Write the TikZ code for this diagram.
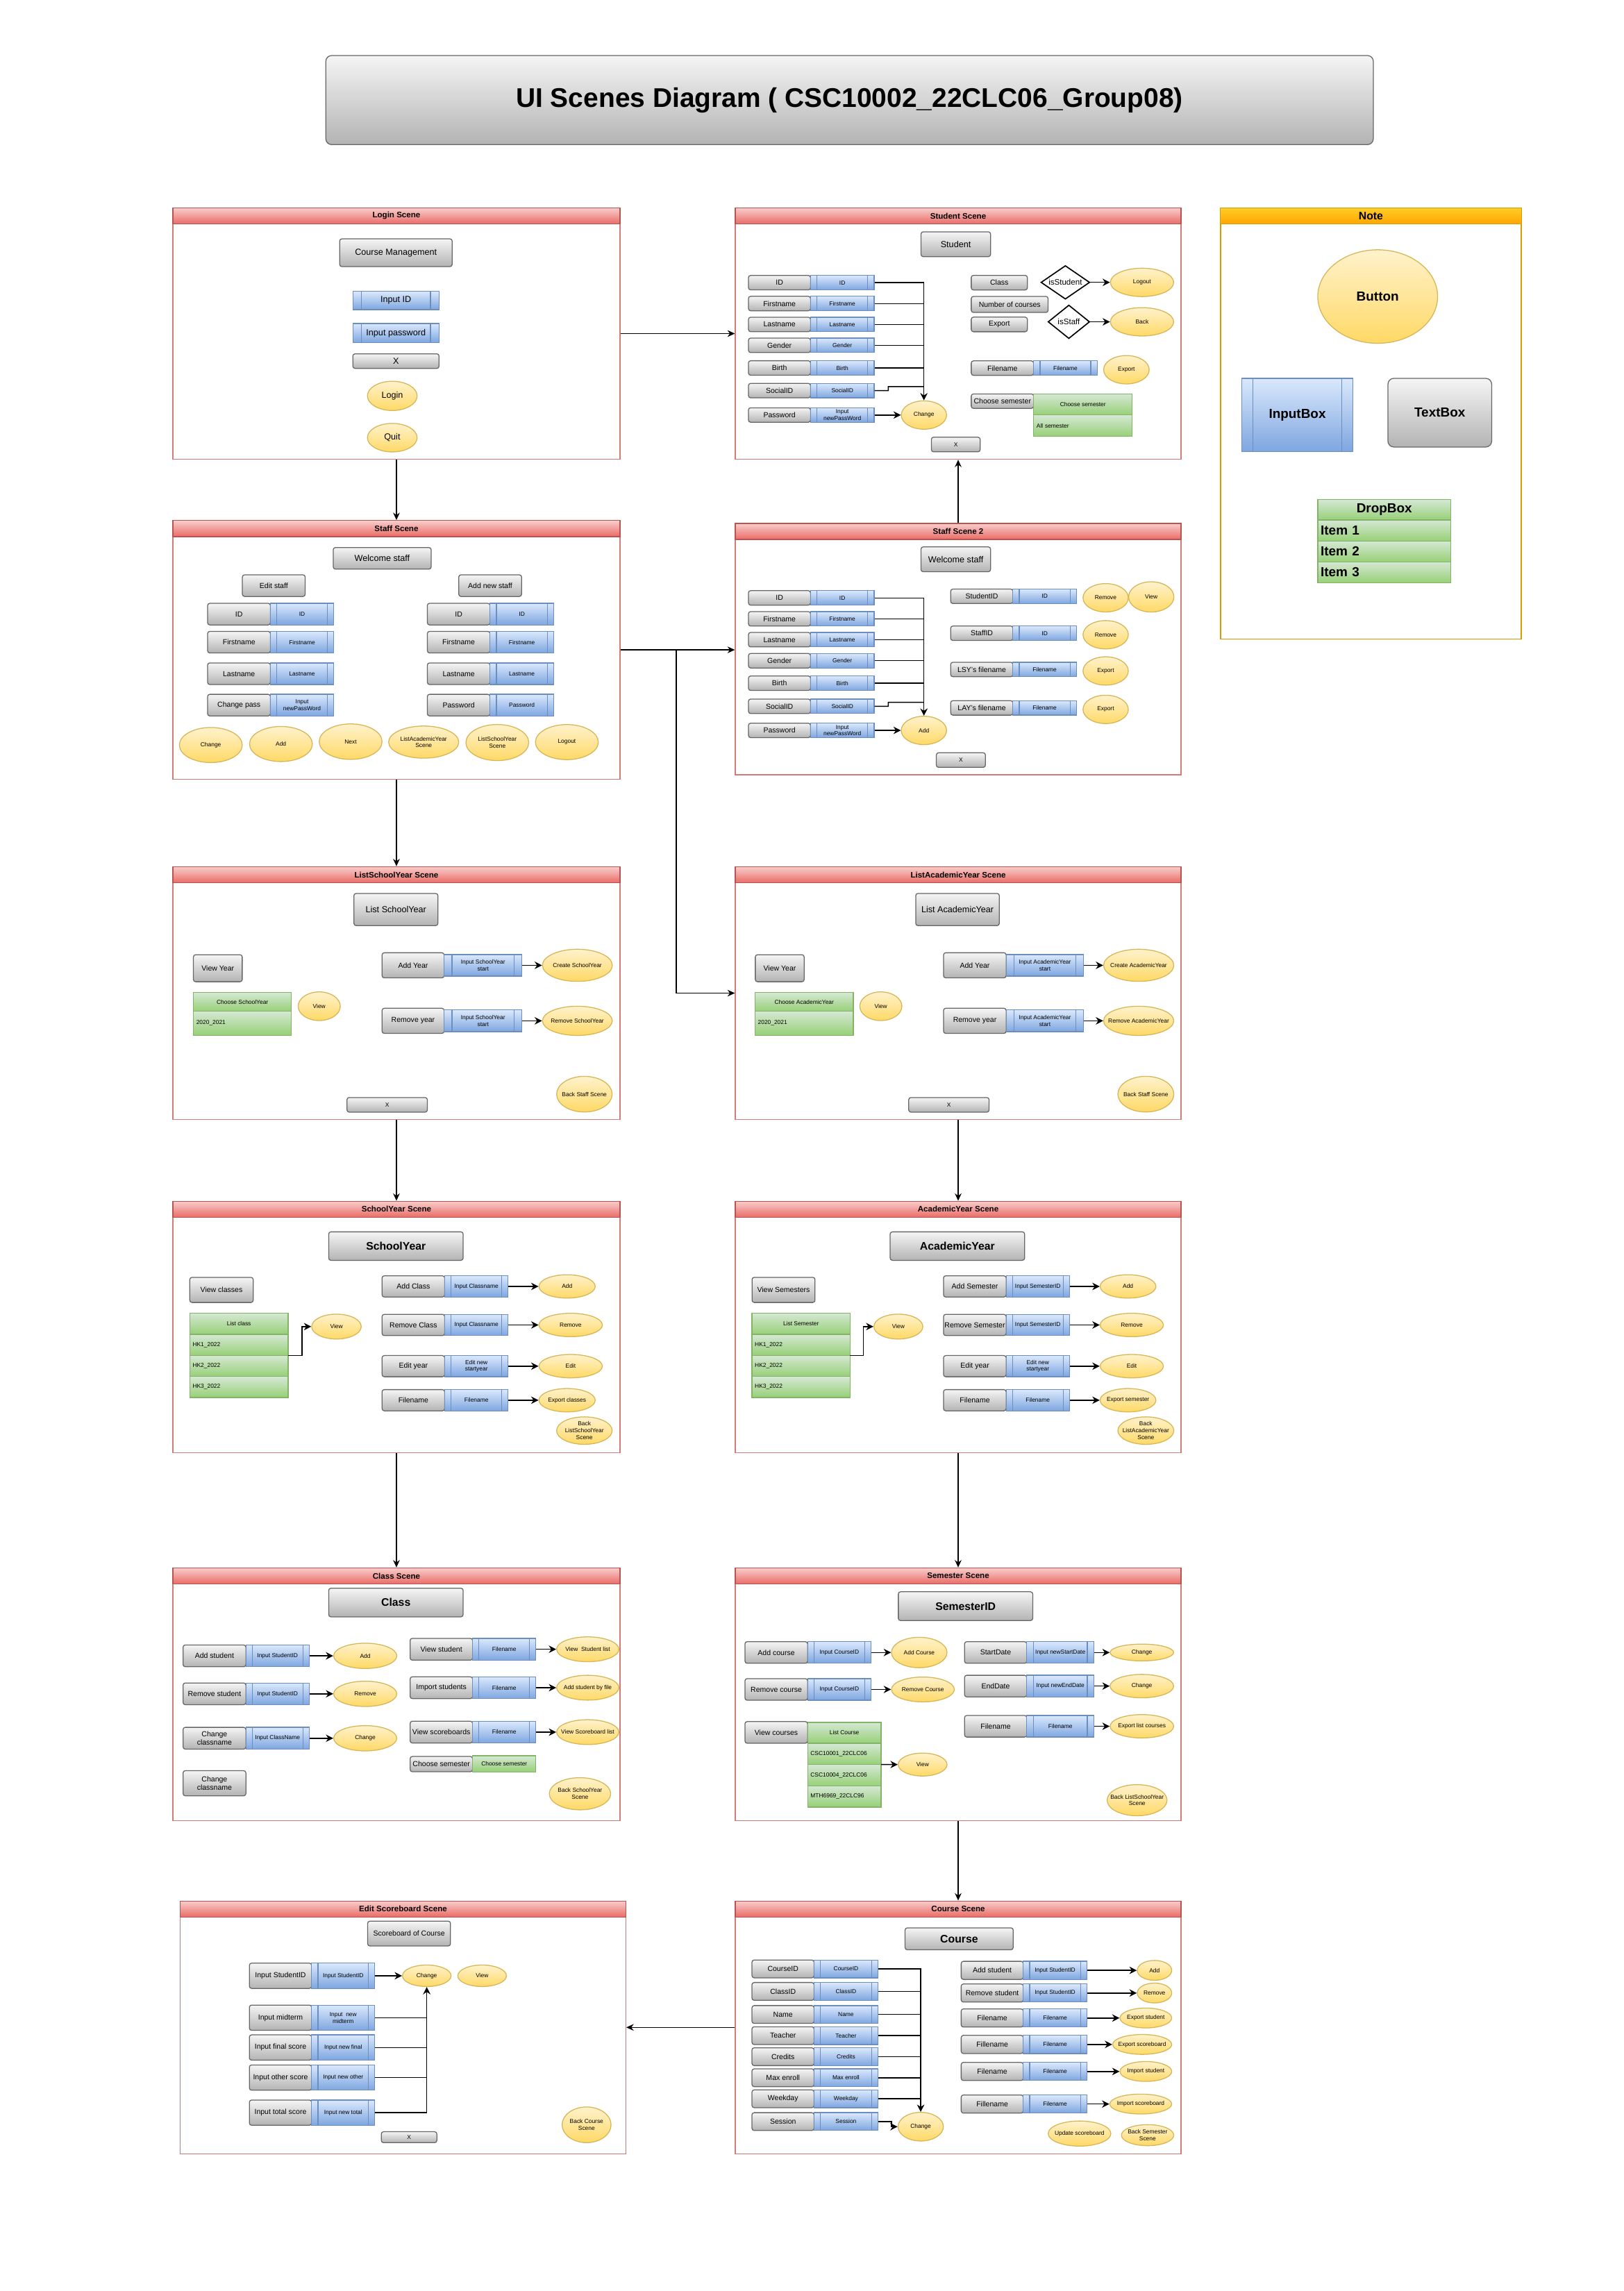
\documentclass[tikz,border=0pt]{standalone}
\usepackage{fontspec}
\setmainfont{Liberation Sans}
\usetikzlibrary{arrows.meta, shapes.geometric, positioning, calc}

\definecolor{boxtop}{HTML}{F5F5F5}
\definecolor{boxbot}{HTML}{B3B3B3}
\definecolor{boxline}{HTML}{666666}
\definecolor{intop}{HTML}{DAE8FC}
\definecolor{inbot}{HTML}{7EA6E0}
\definecolor{inpline}{HTML}{6C8EBF}
\definecolor{btntop}{HTML}{FFF2CC}
\definecolor{btnbot}{HTML}{FFD966}
\definecolor{btnline}{HTML}{D6B656}
\definecolor{droptop}{HTML}{D5E8D4}
\definecolor{dropbot}{HTML}{97D077}
\definecolor{dropline}{HTML}{82B366}
\definecolor{headtop}{HTML}{F8CECC}
\definecolor{headbot}{HTML}{EA6B66}
\definecolor{headline}{HTML}{B85450}
\definecolor{frameline}{HTML}{D47A76}
\definecolor{notetop}{HTML}{FFCD28}
\definecolor{notebot}{HTML}{FFA500}
\definecolor{noteline}{HTML}{D79B00}

\newcommand{\fsTitle}{\fontsize{18.5}{22}\selectfont\bfseries}
\newcommand{\fsHead}{\fontsize{5.5}{6.5}\selectfont\bfseries}
\newcommand{\fsMain}{\fontsize{7.5}{9}\selectfont\bfseries}
\newcommand{\fsBig}{\fontsize{6}{7}\selectfont}
\newcommand{\fsLbl}{\fontsize{5}{5.8}\selectfont}
\newcommand{\fsIn}{\fontsize{4}{4.6}\selectfont}
\newcommand{\fsGate}{\fontsize{5.5}{6.5}\selectfont}
\newcommand{\fsNote}{\fontsize{9}{10.5}\selectfont\bfseries}
\newcommand{\fsNoteHead}{\fontsize{7.5}{9}\selectfont\bfseries}

\begin{document}
\begin{tikzpicture}[x=1pt, y=-1pt, scale=0.9896, transform shape,
    scene/.style={anchor=north west, draw=frameline, fill=white, line width=0.7, inner sep=0},
    scnhead/.style={anchor=north, draw=headline, top color=headtop, bottom color=headbot, line width=0.6, minimum height=11, inner sep=0, font=\fsHead},
    lbl/.style={rectangle, rounded corners=1.5, draw=boxline, top color=boxtop, bottom color=boxbot, line width=0.6, inner sep=0.5, align=center, font=\fsLbl},
    inp/.style={rectangle, draw=inpline, top color=intop, bottom color=inbot, line width=0.6, inner sep=0.5, align=center, font=\fsIn,
      path picture={\draw[inpline, line width=0.6]
        ($(path picture bounding box.south west)!0.1!(path picture bounding box.south east)$) --
        ($(path picture bounding box.north west)!0.1!(path picture bounding box.north east)$)
        ($(path picture bounding box.south west)!0.9!(path picture bounding box.south east)$) --
        ($(path picture bounding box.north west)!0.9!(path picture bounding box.north east)$);}},
    btn/.style={ellipse, draw=btnline, top color=btntop, bottom color=btnbot, line width=0.6, inner sep=0, label={[btntxt]center:{#1}}},
    btntxt/.style={font=\fsIn, align=center, inner sep=0},
    gate/.style={diamond, draw=black, fill=white, line width=0.8, inner sep=0, label={[font=\fsGate, inner sep=0]center:#1}},
    drophead/.style={rectangle, draw=dropline, top color=droptop, bottom color=dropbot, line width=0.6, inner sep=0.5, outer sep=0, align=center, font=\fsIn},
    dropitem/.style={drophead, align=left, inner xsep=2},
    wire/.style={draw=black, line width=0.7},
    flow/.style={wire, -{Stealth[length=5pt, width=5pt]}},
    sceneLink/.style={wire, -{Stealth[length=5pt, width=4.5pt]}}
  ]
  \useasboundingbox (0,0) rectangle (1111.56,1568.3);
  \fill[white] (0,0) rectangle (1111.56,1568.3);

  % 标题
  \node[lbl, rounded corners=4, font=\fsTitle, minimum width=717, minimum height=61] (title) at (581.5,68.5) {UI Scenes Diagram ( CSC10002\_22CLC06\_Group08)};

  % 登录场景
  \node[scene, minimum width=306, minimum height=172] (login) at (118,142) {};
  \node[scnhead, minimum width=306] (loginHead) at (login.north) {Login Scene};
  \begin{scope}[shift={(118,142)}]
    \node[lbl, font=\fsBig, minimum width=77, minimum height=19] (lgTitle) at (153,31) {Course Management};
    \node[inp, font=\fsBig, minimum width=59, minimum height=12.5] (lgId) at (153,63.7) {Input ID};
    \node[inp, font=\fsBig, minimum width=59, minimum height=13] (lgPass) at (153,86) {Input password};
    \node[lbl, font=\fsBig, minimum width=59, minimum height=10] (lgX) at (153,105.2) {X};
    \node[btn={\fsBig Login}, minimum width=34, minimum height=20] (lgLogin) at (150.5,129) {};
    \node[btn={\fsBig Quit}, minimum width=34, minimum height=19.5] (lgQuit) at (150.5,157.6) {};
  \end{scope}

  % 学生场景
  \node[scene, minimum width=305, minimum height=172] (student) at (503,142) {};
  \node[scnhead, minimum width=305] (studentHead) at (student.north) {Student Scene};
  \begin{scope}[shift={(503,142)}]
    \node[lbl, font=\fsBig, minimum width=47.6, minimum height=17] (stuTitle) at (151.2,25.2) {Student};
    \foreach \y/\lab/\txt [count=\i] in {51.5/ID/ID, 65.8/Firstname/Firstname, 80.1/Lastname/Lastname, 94.4/Gender/Gender, 109.9/Birth/Birth, 125.4/SocialID/SocialID, 142.1/Password/{Input\\newPassWord}} {
      \node[lbl, minimum width=42.5, minimum height=9.9] (stuL\i) at (30.55,\y) {\lab};
      \node[inp, minimum width=43.5, minimum height=9.9] (stuI\i) at (73.55,\y) {\txt};
    }
    \node[btn=Change, minimum width=31, minimum height=19.4] (stuChange) at (129.4,142.1) {};
    \draw[flow] (stuI1.east) -| (stuChange.north);
    \foreach \i in {2,...,5} \draw[wire] (stuI\i.east) -- (stuI\i.east -| stuChange.north);
    \draw[wire] (stuI6.east) -- ++(9.4,0) -- ++(0,-2.7) coordinate (stuStep) -- (stuStep -| stuChange.north);
    \draw[flow] (stuI7.east) -- (stuChange.west);
    \node[lbl, font=\fsIn, minimum width=33.4, minimum height=10] (stuX) at (151.2,162.3) {X};
    \node[lbl, minimum width=38.4, minimum height=10] (stuClass) at (181,51.5) {Class};
    \node[lbl, minimum width=52.6, minimum height=11] (stuCount) at (188.1,66.4) {Number of courses};
    \node[lbl, minimum width=38.4, minimum height=10] (stuExport) at (181,80.1) {Export};
    \node[gate={isStudent}, minimum width=33.4, minimum height=23] (stuIsStu) at (226.2,51.3) {};
    \node[gate={isStaff}, minimum width=28.5, minimum height=23] (stuIsStaff) at (228.6,78.3) {};
    \node[btn=Logout, minimum width=43.3, minimum height=19.4] (stuLogout) at (278.7,51.3) {};
    \node[btn=Back, minimum width=43.3, minimum height=19.4] (stuBack) at (278.7,78.3) {};
    \draw[flow] (stuIsStu.east) -- (stuLogout.west);
    \draw[flow] (stuIsStaff.east) -- (stuBack.west);
    \node[lbl, minimum width=42.7, minimum height=9.9] (stuFileL) at (183.15,110) {Filename};
    \node[inp, minimum width=43.5, minimum height=9.9] (stuFileI) at (226.25,110) {Filename};
    \node[btn=Export, minimum width=31.2, minimum height=19.4] (stuFileBtn) at (268,111.1) {};
    \node[lbl, minimum width=42.7, minimum height=9.9] (stuSemL) at (183.15,132.6) {Choose semester};
    \node[drophead, anchor=north west, minimum width=67.5, minimum height=14.4] (stuSem) at (204.5,127.7) {Choose semester};
    \node[dropitem, text width=63.5, minimum height=14.5, below=0pt of stuSem] (stuSemAll) {All semester};
  \end{scope}

  % 员工场景
  \node[scene, minimum width=306, minimum height=177] (staff) at (118,356) {};
  \node[scnhead, minimum width=306] (staffHead) at (staff.north) {Staff Scene};
  \begin{scope}[shift={(118,356)}]
    \node[lbl, font=\fsBig, minimum width=67, minimum height=14.8] (stfTitle) at (143.6,26.2) {Welcome staff};
    \node[lbl, minimum width=43, minimum height=14.8] (stfEdit) at (69.4,44.9) {Edit staff};
    \node[lbl, minimum width=43, minimum height=14.8] (stfNew) at (217.5,44.9) {Add new staff};
    \foreach \y/\labA/\inA/\labB/\inB [count=\i] in {64.4/ID/ID/ID/ID, 83.6/Firstname/Firstname/Firstname/Firstname, 105.2/Lastname/Lastname/Lastname/Lastname, 126.7/Change pass/{Input\\newPassWord}/Password/Password} {
      \node[lbl, minimum width=43, minimum height=14.8] (stfL\i) at (45.6,\y) {\labA};
      \node[inp, minimum width=43.3, minimum height=14.8] (stfI\i) at (88.75,\y) {\inA};
      \node[lbl, minimum width=42.9, minimum height=14.8] (stfR\i) at (195.95,\y) {\labB};
      \node[inp, minimum width=43.6, minimum height=14.8] (stfS\i) at (239.2,\y) {\inB};
    }
    \node[btn=Change, minimum width=43, minimum height=24] (stfChange) at (26.3,154) {};
    \node[btn=Add, minimum width=43, minimum height=24] (stfAdd) at (74.3,153.3) {};
    \node[btn=Next, minimum width=43, minimum height=24.3] (stfNext) at (122,151.7) {};
    \node[btn={ListAcademicYear\\Scene}, minimum width=48, minimum height=22] (stfToLAY) at (172,152) {};
    \node[btn={ListSchoolYear\\Scene}, minimum width=43, minimum height=24.7] (stfToLSY) at (222.4,152.3) {};
    \node[btn=Logout, minimum width=43, minimum height=24] (stfLogout) at (270,152) {};
  \end{scope}

  % 员工场景 2
  \node[scene, minimum width=305, minimum height=172] (staffTwo) at (503,358) {};
  \node[scnhead, minimum width=305] (staffTwoHead) at (staffTwo.north) {Staff Scene 2};
  \begin{scope}[shift={(503,358)}]
    \node[lbl, font=\fsBig, minimum width=47.6, minimum height=17] (sfbTitle) at (151.2,24.9) {Welcome staff};
    \foreach \y/\lab/\txt [count=\i] in {51.3/ID/ID, 65.6/Firstname/Firstname, 79.9/Lastname/Lastname, 94.3/Gender/Gender, 109.7/Birth/Birth, 125.5/SocialID/SocialID, 142/Password/{Input\\newPassWord}} {
      \node[lbl, minimum width=42.5, minimum height=9.9] (sfbL\i) at (30.55,\y) {\lab};
      \node[inp, minimum width=43.5, minimum height=9.9] (sfbI\i) at (73.55,\y) {\txt};
    }
    \node[btn=Add, minimum width=31, minimum height=19.4] (sfbAdd) at (129.4,142) {};
    \draw[flow] (sfbI1.east) -| (sfbAdd.north);
    \foreach \i in {2,...,5} \draw[wire] (sfbI\i.east) -- (sfbI\i.east -| sfbAdd.north);
    \draw[wire] (sfbI6.east) -- ++(9.4,0) -- ++(0,-2.7) coordinate (sfbStep) -- (sfbStep -| sfbAdd.north);
    \draw[flow] (sfbI7.east) -- (sfbAdd.west);
    \node[lbl, font=\fsIn, minimum width=33.6, minimum height=10] (sfbX) at (154.7,162.3) {X};
    \foreach \y/\lab/\txt/\act [count=\i] in {50.2/StudentID/ID/Remove, 75.5/StaffID/ID/Remove, 100.3/LSY's filename/Filename/Export, 126.6/LAY's filename/Filename/Export} {
      \node[lbl, minimum width=42.6, minimum height=9.9] (sfbR\i) at (169,\y) {\lab};
      \node[inp, minimum width=43.5, minimum height=9.9] (sfbS\i) at (212.05,\y) {\txt};
      \node[btn=\act, minimum width=31, minimum height=19.4] (sfbB\i) at (253.8,\y+1) {};
    }
    \node[btn=View, minimum width=31, minimum height=20.7] (sfbView) at (285,50.6) {};
  \end{scope}

  % 学年列表场景
  \node[scene, minimum width=306, minimum height=173] (listSY) at (118,593) {};
  \node[scnhead, minimum width=306] (listSYHead) at (listSY.north) {ListSchoolYear Scene};
  \begin{scope}[shift={(118,593)}]
    \node[lbl, font=\fsBig, minimum width=57.5, minimum height=22] (lsyTitle) at (153,29.6) {List SchoolYear};
    \node[lbl, minimum width=33.4, minimum height=18.5] (lsyView) at (31.1,69.8) {View Year};
    \node[drophead, anchor=north west, minimum width=67.1, minimum height=12.8] (lsyList) at (14.4,86.4) {Choose SchoolYear};
    \node[dropitem, text width=63.1, minimum height=16.5, below=0pt of lsyList] (lsyItem) {2020\_2021};
    \node[btn=View, minimum width=28.8, minimum height=19.6] (lsyViewBtn) at (100.5,95.8) {};
    \node[lbl, minimum width=42.5, minimum height=17.2] (lsyAdd) at (164.75,67.8) {Add Year};
    \node[inp, minimum width=53.3, minimum height=14.8] (lsyAddIn) at (212.65,67.8) {Input SchoolYear\\start};
    \node[btn=Create SchoolYear, minimum width=47.8, minimum height=22] (lsyCreate) at (277.2,67.8) {};
    \node[lbl, minimum width=42.5, minimum height=17.2] (lsyRem) at (164.75,105.8) {Remove year};
    \node[inp, minimum width=53.3, minimum height=14.8] (lsyRemIn) at (212.65,105.8) {Input SchoolYear\\start};
    \node[btn=Remove SchoolYear, minimum width=47.8, minimum height=20] (lsyRemove) at (277.2,105.8) {};
    \draw[flow] (lsyAddIn.east) -- (lsyCreate.west);
    \draw[flow] (lsyRemIn.east) -- (lsyRemove.west);
    \node[lbl, font=\fsIn, minimum width=55, minimum height=10] (lsyX) at (147,163.3) {X};
    \node[btn=Back Staff Scene, minimum width=38, minimum height=24.4] (lsyBack) at (282,156) {};
  \end{scope}

  % 学年度列表场景
  \node[scene, minimum width=305, minimum height=173] (listAY) at (503,593) {};
  \node[scnhead, minimum width=305] (listAYHead) at (listAY.north) {ListAcademicYear Scene};
  \begin{scope}[shift={(503,593)}]
    \node[lbl, font=\fsBig, minimum width=57.2, minimum height=22] (layTitle) at (152.4,29.6) {List AcademicYear};
    \node[lbl, minimum width=33.4, minimum height=18.5] (layView) at (30.7,69.8) {View Year};
    \node[drophead, anchor=north west, minimum width=67.3, minimum height=12.8] (layList) at (13.8,86.4) {Choose AcademicYear};
    \node[dropitem, text width=63.3, minimum height=16.5, below=0pt of layList] (layItem) {2020\_2021};
    \node[btn=View, minimum width=28.8, minimum height=19.6] (layViewBtn) at (99.9,95.8) {};
    \node[lbl, minimum width=42.9, minimum height=17.2] (layAdd) at (164.25,67.8) {Add Year};
    \node[inp, minimum width=53, minimum height=14.8] (layAddIn) at (212.2,67.8) {Input AcademicYear\\start};
    \node[btn=Create AcademicYear, minimum width=48, minimum height=22] (layCreate) at (276.4,67.8) {};
    \node[lbl, minimum width=42.9, minimum height=17.2] (layRem) at (164.25,105.8) {Remove year};
    \node[inp, minimum width=53, minimum height=14.8] (layRemIn) at (212.2,105.8) {Input AcademicYear\\start};
    \node[btn=Remove AcademicYear, minimum width=48, minimum height=20] (layRemove) at (276.4,105.8) {};
    \draw[flow] (layAddIn.east) -- (layCreate.west);
    \draw[flow] (layRemIn.east) -- (layRemove.west);
    \node[lbl, font=\fsIn, minimum width=55, minimum height=10] (layX) at (146.5,163.3) {X};
    \node[btn=Back Staff Scene, minimum width=38.3, minimum height=24.4] (layBack) at (281.3,156) {};
  \end{scope}

  % 学年场景
  \node[scene, minimum width=306, minimum height=172] (schoolY) at (118,822) {};
  \node[scnhead, minimum width=306] (schoolYHead) at (schoolY.north) {SchoolYear Scene};
  \begin{scope}[shift={(118,822)}]
    \node[lbl, font=\fsMain, minimum width=92, minimum height=19.5] (syTitle) at (153,31) {SchoolYear};
    \node[lbl, minimum width=43.4, minimum height=17.2] (syView) at (33.6,61) {View classes};
    \node[drophead, anchor=north west, minimum width=67.3, minimum height=14.6] (syList) at (11.9,76.8) {List class};
    \node[dropitem, text width=63.3, minimum height=14.4, below=0pt of syList] (syItem1) {HK1\_2022};
    \node[dropitem, text width=63.3, minimum height=14.4, below=0pt of syItem1] (syItem2) {HK2\_2022};
    \node[dropitem, text width=63.3, minimum height=14.4, below=0pt of syItem2] (syItem3) {HK3\_2022};
    \node[btn=View, minimum width=33.9, minimum height=17] (syViewBtn) at (112.3,86.1) {};
    \draw[flow] (syItem1.south east) -- ++(9.6,0) |- (syViewBtn.west);
    \foreach \y/\lab/\txt/\act/\w [count=\i] in {58.6/Add Class/Input Classname/Add/38.5, 85/Remove Class/Input Classname/Remove/43.4, 113.2/Edit year/{Edit new\\startyear}/Edit/43.4, 136.5/Filename/Filename/Export classes/38.5} {
      \node[lbl, minimum width=42.9, minimum height=14.5] (syL\i) at (164.95,\y) {\lab};
      \node[inp, minimum width=43.4, minimum height=14.5] (syI\i) at (208.1,\y) {\txt};
      \node[btn=\act, minimum width=\w, minimum height=16] (syB\i) at (250.9+\w/2,\y) {};
      \draw[flow] (syI\i.east) -- (syB\i.west);
    }
    \node[btn={Back\\ListSchoolYear\\Scene}, minimum width=38, minimum height=18.8] (syBack) at (282,157.3) {};
  \end{scope}

  % 学年度场景
  \node[scene, minimum width=305, minimum height=172] (academicY) at (503,822) {};
  \node[scnhead, minimum width=305] (academicYHead) at (academicY.north) {AcademicYear Scene};
  \begin{scope}[shift={(503,822)}]
    \node[lbl, font=\fsMain, minimum width=92, minimum height=19.5] (ayTitle) at (152.3,31) {AcademicYear};
    \node[lbl, minimum width=43.1, minimum height=17.2] (ayView) at (33.3,61) {View Semesters};
    \node[drophead, anchor=north west, minimum width=67.2, minimum height=14.6] (ayList) at (11.7,76.8) {List Semester};
    \node[dropitem, text width=63.2, minimum height=14.4, below=0pt of ayList] (ayItem1) {HK1\_2022};
    \node[dropitem, text width=63.2, minimum height=14.4, below=0pt of ayItem1] (ayItem2) {HK2\_2022};
    \node[dropitem, text width=63.2, minimum height=14.4, below=0pt of ayItem2] (ayItem3) {HK3\_2022};
    \node[btn=View, minimum width=33.5, minimum height=17] (ayViewBtn) at (111.9,86.1) {};
    \draw[flow] (ayItem1.south east) -- ++(9.1,0) |- (ayViewBtn.west);
    \foreach \y/\lab/\txt/\act/\w [count=\i] in {58.6/Add Semester/Input SemesterID/Add/38.2, 85/Remove Semester/Input SemesterID/Remove/43.3, 113.2/Edit year/{Edit new\\startyear}/Edit/43.3, 136.5/Filename/Filename/Export semester/38.2} {
      \node[lbl, minimum width=42.9, minimum height=14.5] (ayL\i) at (164.25,\y) {\lab};
      \node[inp, minimum width=43.3, minimum height=14.5] (ayI\i) at (207.35,\y) {\txt};
      \node[btn=\act, minimum width=\w, minimum height=16] (ayB\i) at (250+\w/2,\y) {};
      \draw[flow] (ayI\i.east) -- (ayB\i.west);
    }
    \node[btn={Back\\ListAcademicYear\\Scene}, minimum width=38.3, minimum height=18.8] (ayBack) at (281.3,157.3) {};
  \end{scope}

  % 班级场景
  \node[scene, minimum width=306, minimum height=173] (clsScene) at (118,1073) {};
  \node[scnhead, minimum width=306] (clsSceneHead) at (clsScene.north) {Class Scene};
  \begin{scope}[shift={(118,1073)}]
    \node[lbl, font=\fsMain, minimum width=92, minimum height=19.6] (clsTitle) at (153,24) {Class};
    \foreach \y/\lab/\txt/\act [count=\i] in {60.5/Add student/Input StudentID/Add, 86.5/Remove student/Input StudentID/Remove, 116.9/{Change\\classname}/Input ClassName/Change} {
      \node[lbl, minimum width=43, minimum height=14.9] (clsL\i) at (28.8,\y) {\lab};
      \node[inp, minimum width=43.3, minimum height=14.9] (clsI\i) at (71.95,\y) {\txt};
      \node[btn=\act, minimum width=43.2, minimum height=17.3] (clsB\i) at (132,\y) {};
      \draw[flow] (clsI\i.east) -- (clsB\i.west);
    }
    \node[lbl, minimum width=43, minimum height=17.2] (clsRename) at (28.8,147.7) {Change\\classname};
    \foreach \y/\lab/\act [count=\i] in {56/View student/View\ \ Student list, 82.3/Import students/Add student by file, 112.7/View scoreboards/View Scoreboard list} {
      \node[lbl, minimum width=42.8, minimum height=14.9] (clsRL\i) at (184.1,\y) {\lab};
      \node[inp, minimum width=43.3, minimum height=14.9] (clsRI\i) at (227.15,\y) {Filename};
      \node[btn=\act, minimum width=42.6, minimum height=17] (clsRB\i) at (284.3,\y) {};
      \draw[flow] (clsRI\i.east) -- (clsRB\i.west);
    }
    \node[lbl, minimum width=42.8, minimum height=10.4] (clsSemL) at (184.1,134.6) {Choose semester};
    \node[drophead, minimum width=43.3, minimum height=11] (clsSem) at (227.15,134.4) {Choose semester};
    \node[btn={Back SchoolYear\\Scene}, minimum width=42, minimum height=22] (clsBack) at (279,154.9) {};
  \end{scope}

  % 学期场景
  \node[scene, minimum width=305, minimum height=173] (semester) at (503,1073) {};
  \node[scnhead, minimum width=305] (semesterHead) at (semester.north) {Semester Scene};
  \begin{scope}[shift={(503,1073)}]
    \node[lbl, font=\fsMain, minimum width=92, minimum height=19.7] (semTitle) at (157.9,26.5) {SemesterID};
    \node[lbl, minimum width=42.9, minimum height=14.8] (semAdd) at (28.35,58.2) {Add course};
    \node[inp, minimum width=43.4, minimum height=14.8] (semAddIn) at (71.5,58.2) {Input CourseID};
    \node[btn=Add Course, minimum width=38, minimum height=20.8] (semAddBtn) at (126.2,58.2) {};
    \node[lbl, minimum width=42.9, minimum height=14.8] (semRem) at (28.35,83.5) {Remove course};
    \node[inp, minimum width=43.4, minimum height=14.8] (semRemIn) at (71.5,83.5) {Input CourseID};
    \node[btn=Remove Course, minimum width=43, minimum height=17] (semRemBtn) at (128.7,83.5) {};
    \draw[flow] (semAddIn.east) -- (semAddBtn.west);
    \draw[flow] (semRemIn.east) -- (semRemBtn.west);
    \node[lbl, minimum width=42.9, minimum height=14.8] (semView) at (28.35,112.9) {View courses};
    \node[drophead, anchor=north west, minimum width=50.3, minimum height=14.3] (semList) at (49.8,106) {List Course};
    \node[dropitem, text width=46.3, minimum height=14.6, below=0pt of semList] (semItem1) {CSC10001\_22CLC06};
    \node[dropitem, text width=46.3, minimum height=14.6, below=0pt of semItem1] (semItem2) {CSC10004\_22CLC06};
    \node[dropitem, text width=46.3, minimum height=14.6, below=0pt of semItem2] (semItem3) {MTH6969\_22CLC96};
    \node[btn=View, minimum width=33.4, minimum height=15.7] (semViewBtn) at (128.5,134.9) {};
    \draw[flow] (semItem1.south east) -- (semViewBtn.west);
    \foreach \y/\lab/\txt/\act/\h [count=\i] in {58.2/StartDate/Input newStartDate/Change/11.5, 81.2/EndDate/Input newEndDate/Change/16, 108.7/Filename/Filename/Export list courses/16} {
      \node[lbl, minimum width=42.6, minimum height=14.8] (semL\i) at (178.5,\y) {\lab};
      \node[inp, minimum width=46, minimum height=14.8] (semI\i) at (222.8,\y) {\txt};
      \node[btn=\act, minimum width=43.5, minimum height=\h] (semB\i) at (278.6,\y) {};
      \draw[flow] (semI\i.east) -- (semB\i.west);
    }
    \node[btn={Back ListSchoolYear\\Scene}, minimum width=41, minimum height=21.3] (semBack) at (275.3,159.3) {};
  \end{scope}

  % 成绩单编辑场景
  \node[scene, minimum width=305, minimum height=173] (editSB) at (123,1301) {};
  \node[scnhead, minimum width=305] (editSBHead) at (editSB.north) {Edit Scoreboard Scene};
  \begin{scope}[shift={(123,1301)}]
    \node[lbl, minimum width=56.7, minimum height=17] (esTitle) at (157,22.6) {Scoreboard of Course};
    \foreach \y/\lab/\txt [count=\i] in {51.5/Input StudentID/Input StudentID, 80.2/Input midterm/{Input\ \ new\\midterm}, 100.6/Input final score/Input new final, 121.2/Input other score/Input new other, 145.2/Input total score/Input new total} {
      \node[lbl, minimum width=42.6, minimum height=17.3] (esL\i) at (69,\y) {\lab};
      \node[inp, minimum width=43.2, minimum height=17.3] (esI\i) at (111.9,\y) {\txt};
    }
    \node[btn=Change, minimum width=33.3, minimum height=14.7] (esChange) at (169.1,51.5) {};
    \node[btn=View, minimum width=33.3, minimum height=14.7] (esView) at (207,51.5) {};
    \draw[flow] (esI1.east) -- (esChange.west);
    \draw[flow] (esI5.east) -| (esChange.south);
    \foreach \i in {2,3,4} \draw[wire] (esI\i.east) -- (esI\i.east -| esChange.south);
    \node[lbl, font=\fsIn, minimum width=38, minimum height=7.5] (esX) at (157,162) {X};
    \node[btn={Back Course\\Scene}, minimum width=33.5, minimum height=24.4] (esBack) at (278.5,153.5) {};
  \end{scope}

  % 课程场景
  \node[scene, minimum width=305, minimum height=173] (course) at (503,1301) {};
  \node[scnhead, minimum width=305] (courseHead) at (course.north) {Course Scene};
  \begin{scope}[shift={(503,1301)}]
    \node[lbl, font=\fsMain, minimum width=74, minimum height=15] (crTitle) at (153.5,26.2) {Course};
    \foreach \y/\lab [count=\i] in {46.8/CourseID, 62.2/ClassID, 78/Name, 92.5/Teacher, 106.9/Credits, 121.3/Max enroll, 135.7/Weekday, 151.3/Session} {
      \node[lbl, minimum width=42.5, minimum height=12.2] (crL\i) at (32.95,\y) {\lab};
      \node[inp, minimum width=43.7, minimum height=12.2] (crI\i) at (76.05,\y) {\lab};
    }
    \node[btn=Change, minimum width=31, minimum height=19.6] (crChange) at (127.2,154.8) {};
    \draw[flow] (crI1.east) -| (crChange.north);
    \foreach \i in {2,...,7} \draw[wire] (crI\i.east) -- (crI\i.east -| crChange.north);
    \draw[flow] (crI8.east) -- ++(8.9,0) |- (crChange.west);
    \foreach \y/\lab/\txt/\act/\w [count=\i] in {47.8/Add student/Input StudentID/Add/23.6, 63.3/Remove student/Input StudentID/Remove/23.6, 80.4/Filename/Filename/Export student/35.4, 98.5/Fillename/Filename/Export scoreboard/40.4, 117/Filename/Filename/Import student/35.4, 139.3/Fillename/Filename/Import scoreboard/42.4} {
      \node[lbl, minimum width=42.5, minimum height=12.4] (crRL\i) at (176.15,\y) {\lab};
      \node[inp, minimum width=43.5, minimum height=12.4] (crRI\i) at (219.15,\y) {\txt};
      \node[btn=\act, minimum width=\w, minimum height=13.6] (crRB\i) at (299-\w/2,\y) {};
      \draw[flow] (crRI\i.east) -- (crRB\i.west);
    }
    \node[btn=Update scoreboard, minimum width=42.9, minimum height=17.2] (crUpdate) at (235.9,159.5) {};
    \node[btn={Back Semester\\Scene}, minimum width=35.8, minimum height=14.4] (crBack) at (282.5,160.6) {};
  \end{scope}

  % 图例
  \node[scene, draw=noteline, minimum width=206, minimum height=295] (note) at (835,142) {};
  \node[scnhead, draw=noteline, top color=notetop, bottom color=notebot, minimum width=206, font=\fsNoteHead] (noteHead) at (note.north) {Note};
  \node[btn={\fsNote Button}, minimum width=82, minimum height=64] (noteBtn) at (943,203) {};
  \node[inp, font=\fsNote, minimum width=76, minimum height=50] (noteIn) at (888,284) {InputBox};
  \node[lbl, rounded corners=4, font=\fsNote, minimum width=71, minimum height=47] (noteTxt) at (985.5,282.5) {TextBox};
  \node[drophead, anchor=north west, font=\fsNote, minimum width=91, minimum height=14] (noteDrop) at (902,342) {DropBox};
  \node[dropitem, font=\fsNote, text width=87, minimum height=14.3, below=0pt of noteDrop] (noteItem1) {Item 1};
  \node[dropitem, font=\fsNote, text width=87, minimum height=14.3, below=0pt of noteItem1] (noteItem2) {Item 2};
  \node[dropitem, font=\fsNote, text width=87, minimum height=14.3, below=0pt of noteItem2] (noteItem3) {Item 3};

  % 场景之间的连线
  \draw[sceneLink] (login.east) -- (student.west);
  \draw[sceneLink] (login.south) -- (staff.north);
  \draw[sceneLink] (staff.east) -- (staff.east -| staffTwo.west);
  \coordinate (split) at (463,444.5);
  \draw[sceneLink] (split) |- (listAY.west);
  \draw[sceneLink] (staffTwo.north) -- (student.south);
  \draw[sceneLink] (staff.south) -- (listSY.north);
  \draw[sceneLink] (listSY.south) -- (schoolY.north);
  \draw[sceneLink] (listAY.south) -- (academicY.north);
  \draw[sceneLink] (schoolY.south) -- (clsScene.north);
  \draw[sceneLink] (academicY.south) -- (semester.north);
  \draw[sceneLink] (semester.south) -- (course.north);
  \draw[sceneLink] (course.west) -- (editSB.east);
\end{tikzpicture}
\end{document}
